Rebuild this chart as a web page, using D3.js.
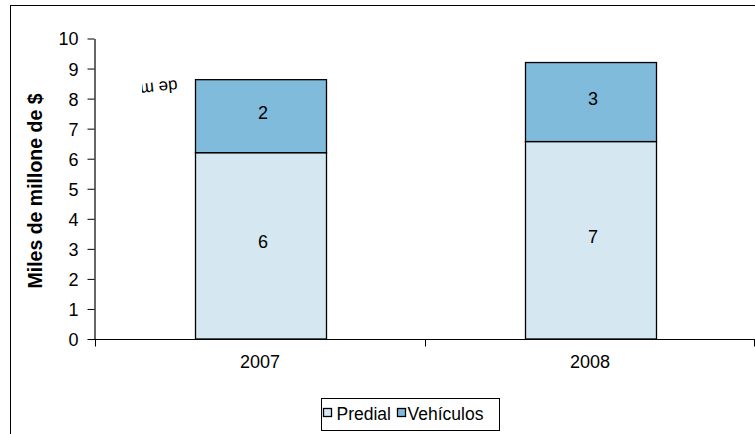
<!DOCTYPE html>
<html>
<head>
<meta charset="utf-8">
<script src="https://cdn.jsdelivr.net/npm/d3@7/dist/d3.min.js"></script>
<style>
  html, body { margin: 0; padding: 0; background: #fff; }
  svg { display: block; font-family: "Liberation Sans", Arial, sans-serif; }
</style>
</head>
<body>
<svg id="chart" width="755" height="434"></svg>
<script>
// Recaudo por impuesto, miles de millones de pesos
const years = ["2007", "2008"];
const predial = [6.2, 6.57];
const vehiculos = [2.43, 2.63];
const seriesNames = ["Predial", "Vehículos"];
const seriesColors = ["#d5e8f1", "#80bbdb"];
const yTicks = [0, 1, 2, 3, 4, 5, 6, 7, 8, 9, 10];

const svg = d3.select("#chart");
const W = 755, H = 434;
const FONT = "Liberation Sans, Arial, sans-serif";

// outer frame (extends past the right and bottom edges)
svg.append("rect")
  .attr("x", 10.5).attr("y", 5.5)
  .attr("width", W + 20).attr("height", H + 20)
  .attr("fill", "#fff").attr("stroke", "#000").attr("stroke-width", 1);

const x = d3.scaleBand().domain(years).range([95, 755]).paddingInner(0).paddingOuter(0);
const y = d3.scaleLinear().domain([0, 10]).range([339, 38.5]);
const barW = 131;

const stacked = d3.stack().keys([0, 1]).value((d, k) => d[k])(
  years.map((yr, i) => [predial[i], vehiculos[i]])
);

const g = svg.append("g");

stacked.forEach((layer, k) => {
  g.selectAll(null).data(layer).enter().append("rect")
    .attr("x", (d, i) => Math.round(x(years[i]) + x.bandwidth() / 2 - barW / 2) + 0.5)
    .attr("y", d => y(d[1]))
    .attr("width", barW)
    .attr("height", d => y(d[0]) - y(d[1]))
    .attr("fill", seriesColors[k])
    .attr("stroke", "#000").attr("stroke-width", 1.3);

  g.selectAll(null).data(layer).enter().append("text")
    .attr("x", (d, i) => x(years[i]) + x.bandwidth() / 2 + 3)
    .attr("y", d => (y(d[0]) + y(d[1])) / 2 + 2.5)
    .attr("text-anchor", "middle")
    .attr("font-size", 18)
    .text(d => d3.format(".0f")(d[1] - d[0]));
});

// y axis
const yAxis = d3.axisLeft(y).tickValues(yTicks).tickSize(7).tickPadding(9).tickSizeOuter(0);
const ya = svg.append("g").attr("transform", "translate(94.5,0)").call(yAxis);
ya.select(".domain").attr("stroke", "#000").attr("stroke-width", 1.2);
ya.selectAll(".tick line").attr("stroke", "#000");
ya.selectAll(".tick text").attr("font-size", 18).attr("fill", "#000")
  .attr("font-family", FONT).attr("dy", "0.36em");

// x axis with ticks on category boundaries
const xa = svg.append("g").attr("transform", "translate(0,339.5)");
xa.append("line").attr("x1", 89).attr("x2", 755).attr("stroke", "#000").attr("stroke-width", 1.2);
const bounds = [95, ...years.map(d => x(d) + x.bandwidth())];
xa.selectAll(null).data(bounds).enter().append("line")
  .attr("x1", d => Math.min(d, 754) + 0.5).attr("x2", d => Math.min(d, 754) + 0.5)
  .attr("y1", 0).attr("y2", 7).attr("stroke", "#000");
xa.selectAll(null).data(years).enter().append("text")
  .attr("x", d => x(d) + x.bandwidth() / 2)
  .attr("y", 28)
  .attr("text-anchor", "middle")
  .attr("font-size", 18)
  .text(d => d);

// y axis title
svg.append("text")
  .attr("transform", "translate(42,191) rotate(-90)")
  .attr("text-anchor", "middle")
  .attr("font-size", 19.5).attr("font-weight", "bold")
  .text("Miles de millone de $");

// stray inverted label fragment near the first bar
svg.append("clipPath").attr("id", "fragClip")
  .append("rect").attr("x", 142).attr("y", 70).attr("width", 47).attr("height", 30);
svg.append("g").attr("clip-path", "url(#fragClip)")
  .append("text")
  .attr("transform", "translate(177,80) rotate(174)")
  .attr("font-size", 17)
  .text("de millone");

// legend
const leg = svg.append("g").attr("transform", "translate(321.5,398.5)");
leg.append("rect").attr("width", 178).attr("height", 32)
  .attr("fill", "#fff").attr("stroke", "#000");
const items = [{ x: 2, tx: 15, name: seriesNames[0], c: seriesColors[0] },
               { x: 76, tx: 86, name: seriesNames[1], c: seriesColors[1] }];
items.forEach(it => {
  leg.append("rect").attr("x", it.x).attr("y", 10).attr("width", 8).attr("height", 8)
    .attr("fill", it.c).attr("stroke", "#000").attr("stroke-width", 1.3);
  leg.append("text").attr("x", it.tx).attr("y", 21).attr("font-size", 17.5).text(it.name);
});
</script>
</body>
</html>
